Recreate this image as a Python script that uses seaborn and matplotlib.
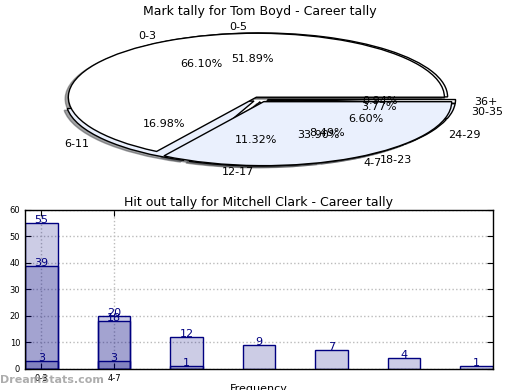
import matplotlib
matplotlib.use('Agg')
import matplotlib.pyplot as plt
import seaborn as sns
import pandas as pd

# Pie data
mark_groups = ['0-5', '6-11', '12-17', '18-23', '24-29', '30-35', '36+']
mark_counts = [55, 18, 12, 9, 7, 4, 1]
hitout_groups = ['0-3', '4-7']
hitout_counts = [39, 20]

# Bar data (overlaid series)
bar_a = [55, 18, 12, 9, 7, 4, 1]
bar_b = [39, 20]
bar_c = [3, 3, 1]
bar_ticks = ['0-3', '4-7']

sns.set_style('white')
plt.rcParams['font.family'] = ['DejaVu Sans']
plt.rcParams['text.color'] = 'black'
plt.rcParams['axes.labelcolor'] = 'black'
plt.rcParams['xtick.color'] = 'black'
plt.rcParams['ytick.color'] = 'black'

fig = plt.figure(figsize=(5.2, 3.9), dpi=100)

# Top: overlaid pies
ax1 = fig.add_axes([0.048, 0.54, 0.904, 0.41])
pie_colors = ['white', '#eaf0fd']
shadow = {'ox': -0.012, 'oy': -0.02}
ax1.pie(mark_counts, labels=mark_groups, autopct='%1.2f%%', startangle=0,
        colors=pie_colors * 4, explode=[0.04] * len(mark_counts), shadow=shadow,
        wedgeprops={'edgecolor': 'black', 'linewidth': 1},
        textprops={'fontsize': 8}, frame=False)
ax1.pie(hitout_counts, labels=hitout_groups, autopct='%1.2f%%', startangle=0,
        colors=pie_colors, explode=[0.04] * len(hitout_counts), shadow=shadow,
        wedgeprops={'edgecolor': 'black', 'linewidth': 1},
        textprops={'fontsize': 8}, frame=False)
ax1.set_aspect('auto')
ax1.set_xlim(-1.25, 1.25)
ax1.set_ylim(-1.25, 1.25)
ax1.set_title('Mark tally for Tom Boyd - Career tally', fontsize=9, pad=3.5)

# Bottom: overlaid bars
ax2 = fig.add_axes([0.048, 0.054, 0.9, 0.408])
for series in [bar_a, bar_b, bar_c]:
    df = pd.DataFrame({'pos': list(range(len(series))), 'val': series})
    sns.barplot(data=df, x='pos', y='val', native_scale=True, width=0.45,
                color='navy', saturation=1, ax=ax2)
    for x, v in zip(df['pos'], df['val']):
        ax2.text(x, v, str(v), ha='center', va='baseline', color='navy', fontsize=8)
for p in ax2.patches:
    p.set_facecolor((0, 0, 0.5, 0.2))
    p.set_edgecolor('navy')
    p.set_linewidth(1)

ax2.set_xlim(-0.228, 6.228)
ax2.set_ylim(0, 60)
ax2.set_xticks(range(len(bar_ticks)))
ax2.set_xticklabels(bar_ticks)
ax2.set_yticks(range(0, 61, 10))
ax2.tick_params(labelsize=6, direction='in', length=4, left=True, right=True,
                bottom=True, top=True)
ax2.grid(True, linestyle=':', color='#bbbbbb', linewidth=1)
ax2.set_axisbelow(True)
for s in ax2.spines.values():
    s.set_visible(True)
    s.set_color('black')
    s.set_linewidth(1)
ax2.set_ylabel('')
ax2.set_xlabel('Frequency', fontsize=8)
ax2.xaxis.set_label_coords(0.5, -0.094)
ax2.set_title('Hit out tally for Mitchell Clark - Career tally', fontsize=9, pad=3)

fig.text(0.0, 10 / 390, 'DreamStats.com', fontsize=8, fontweight='bold',
         color='#999999', alpha=0.8, va='center', ha='left')

fig.savefig('out.png', dpi=100)
